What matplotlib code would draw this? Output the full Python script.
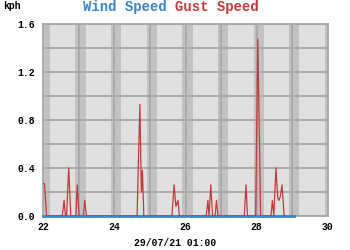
import matplotlib
matplotlib.use('Agg')
import matplotlib.pyplot as plt
import numpy as np

# time in days of July 2021, speeds in kph
wind_t = [22.0, 29.05]
wind_v = [0.0, 0.0]

gust_t = [22.0, 22.04, 22.1, 22.54, 22.59, 22.63, 22.66, 22.72, 22.78, 22.92, 22.96,
          23.01, 23.13, 23.17, 23.22, 24.64, 24.69, 24.72, 24.76, 24.79, 24.83,
          25.62, 25.68, 25.73, 25.79, 25.83, 26.58, 26.63, 26.66, 26.71, 26.76,
          26.83, 26.87, 26.91, 27.65, 27.70, 27.74, 27.97, 28.03, 28.11, 28.40,
          28.44, 28.48, 28.54, 28.59, 28.62, 28.66, 28.71, 28.77]
gust_v = [0.27, 0.27, 0.0, 0.0, 0.13, 0.0, 0.0, 0.40, 0.0, 0.0, 0.26,
          0.0, 0.0, 0.13, 0.0, 0.0, 0.6, 0.93, 0.2, 0.38, 0.0,
          0.0, 0.26, 0.08, 0.13, 0.0, 0.0, 0.13, 0.0, 0.26, 0.0,
          0.0, 0.13, 0.0, 0.0, 0.26, 0.0, 0.0, 1.475, 0.0, 0.0,
          0.13, 0.0, 0.40, 0.15, 0.13, 0.16, 0.26, 0.0]

# night shading (day start offsets)
nights = [22, 23, 24, 25, 26, 27, 28, 29, 30]

blue = '#3a86c8'
red = '#c23b3b'
font = 'Liberation Mono'

fig = plt.figure(figsize=(3.5, 2.5), dpi=100)
ax = fig.add_axes([0.123, 0.136, 0.814, 0.768])
ax.set_facecolor('#e0e0e0')

for d in nights:
    ax.axvspan(d - 0.09, d + 0.2, color='#c2c2c2', lw=0, zorder=0)

ax.plot(wind_t, wind_v, color=blue, lw=2, zorder=3, clip_on=False)
ax.plot(gust_t, gust_v, color=red, lw=0.9, zorder=4)

ax.set_xlim(22, 30)
ax.set_ylim(0, 1.6)
ax.set_xticks([22, 24, 26, 28, 30])
ax.set_xticks(np.arange(22, 31, 1), minor=True)
ax.set_yticks(np.arange(0, 1.61, 0.4))
ax.set_yticks(np.arange(0, 1.61, 0.2), minor=True)
ax.set_yticklabels(['0.0', '0.4', '0.8', '1.2', '1.6'])
ax.grid(True, which='both', color='#a8a8a8', lw=1.3, zorder=1)
ax.set_axisbelow(True)
ax.tick_params(which='both', length=0)
ax.tick_params(axis='x', pad=4)
ax.tick_params(axis='y', pad=6)
for lab in ax.get_xticklabels() + ax.get_yticklabels():
    lab.set_fontfamily(font)
    lab.set_fontweight('bold')
    lab.set_fontsize(7)
for s in ax.spines.values():
    s.set_color('#a8a8a8')
    s.set_linewidth(1.3)

fig.text(0.5, 0.972, 'Wind Speed ', color=blue, ha='right', va='center',
         fontfamily=font, fontweight='bold', fontsize=10)
fig.text(0.5, 0.972, 'Gust Speed', color=red, ha='left', va='center',
         fontfamily=font, fontweight='bold', fontsize=10)
fig.text(0.01, 0.975, 'kph', ha='left', va='center',
         fontfamily=font, fontweight='bold', fontsize=7)
fig.text(0.5, 0.03, '29/07/21 01:00', ha='center', va='center',
         fontfamily=font, fontweight='bold', fontsize=7)

fig.savefig('out.png', dpi=100)
